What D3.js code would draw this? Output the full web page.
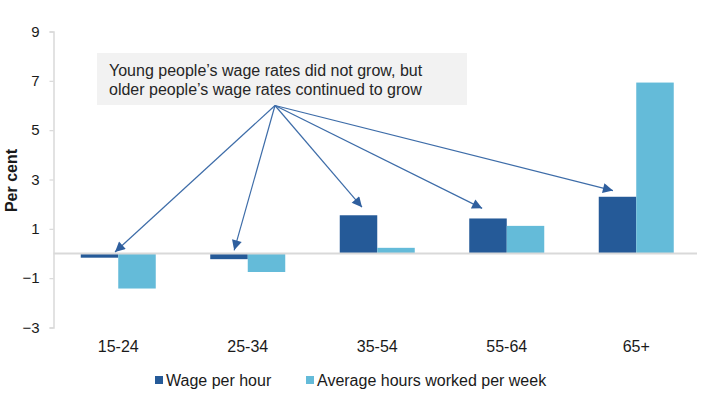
<!DOCTYPE html>
<html>
<head>
<meta charset="utf-8">
<script src="https://cdn.jsdelivr.net/npm/d3@7/dist/d3.min.js"></script>
<style>
  html, body { margin: 0; padding: 0; background: #fff; }
  svg { display: block; font-family: "Liberation Sans", Arial, sans-serif; }
</style>
</head>
<body>
<svg id="chart" width="720" height="402"></svg>
<script>
// ---- data ----
const categories = ["15-24", "25-34", "35-54", "55-64", "65+"];
const seriesNames = ["Wage per hour", "Average hours worked per week"];
const wagePerHour = [-0.17, -0.23, 1.55, 1.42, 2.3];
const hoursPerWeek = [-1.42, -0.75, 0.23, 1.12, 6.93];
const yTicks = [-3, -1, 1, 3, 5, 7, 9];
const annotationLines = ["Young people\u2019s wage rates did not grow, but", "older people\u2019s wage rates continued to grow"];
// arrow targets: category, offset within band (fraction), value level
const arrowTargets = [
  { cat: "15-24", frac: 0.475, val: 0.06 },
  { cat: "25-34", frac: 0.395, val: 0.13 },
  { cat: "35-54", frac: 0.382, val: 1.88 },
  { cat: "55-64", frac: 0.31,  val: 1.83 },
  { cat: "65+",   frac: 0.32,  val: 2.55 }
];

const colors = ["#255a98", "#64bbd9"];

const svg = d3.select("#chart");
const margin = { left: 53.5, right: 19, top: 31.5, bottom: 74.5 };
const W = 720, H = 402;

const x = d3.scaleBand().domain(categories).range([margin.left, W - margin.right]).paddingInner(0).paddingOuter(0);
const bw = 37.5;
const y = d3.scaleLinear().domain([-3, 9]).range([H - margin.bottom, margin.top]);

// y axis
const yAxis = d3.axisLeft(y).tickValues(yTicks).tickSize(4).tickPadding(10).tickFormat(d3.format("d"));
const gy = svg.append("g").attr("transform", `translate(${margin.left},0)`).call(yAxis);
gy.select(".domain").attr("stroke", "#d9d9d9").attr("stroke-width", 1.5);
gy.selectAll(".tick line").attr("stroke", "#d9d9d9").attr("stroke-width", 1.2);
gy.selectAll(".tick text").attr("fill", "#1a1a1a").style("font-size", "15px").style("font-family", "Liberation Sans, Arial, sans-serif");

// y title
svg.append("text")
  .attr("transform", `translate(17,${(y(9) + y(-3)) / 2 + 1}) rotate(-90)`)
  .attr("text-anchor", "middle")
  .style("font-size", "16px").style("font-weight", "bold").attr("fill", "#1a1a1a")
  .text("Per cent");

// bars
const data = categories.map((c, i) => ({ cat: c, vals: [wagePerHour[i], hoursPerWeek[i]] }));
const groups = svg.append("g").selectAll("g").data(data).join("g");
groups.selectAll("rect").data(d => d.vals.map((v, j) => ({ cat: d.cat, v, j }))).join("rect")
  .attr("x", d => x(d.cat) + x.bandwidth() / 2 - bw + d.j * bw)
  .attr("width", bw)
  .attr("y", d => y(Math.max(0, d.v)))
  .attr("height", d => Math.abs(y(d.v) - y(0)))
  .attr("fill", d => colors[d.j]);

// zero line
svg.append("line")
  .attr("x1", margin.left).attr("x2", W - margin.right - 4)
  .attr("y1", y(0)).attr("y2", y(0))
  .attr("stroke", "#d9d9d9").attr("stroke-width", 2);

// category labels
svg.append("g").selectAll("text").data(categories).join("text")
  .attr("x", d => x(d) + x.bandwidth() / 2)
  .attr("y", 352)
  .attr("text-anchor", "middle")
  .style("font-size", "16px").attr("fill", "#1a1a1a")
  .text(d => d);

// annotation box
svg.append("rect").attr("x", 97).attr("y", 53).attr("width", 370).attr("height", 52).attr("fill", "#f2f2f2");
svg.append("g").selectAll("text").data(annotationLines).join("text")
  .attr("x", 109).attr("y", (d, i) => 76 + i * 18.5)
  .style("font-size", "16px").attr("fill", "#262626")
  .text(d => d);

// arrows
const defs = svg.append("defs");
defs.append("marker").attr("id", "arrowhead")
  .attr("viewBox", "0 0 10 10").attr("refX", 10).attr("refY", 5)
  .attr("markerWidth", 11).attr("markerHeight", 10)
  .attr("markerUnits", "userSpaceOnUse")
  .attr("orient", "auto")
  .append("path").attr("d", "M0,0 L10,5 L0,10 Z").attr("fill", "#2f5f9e");

const origin = [275, 105.5];
svg.append("g").selectAll("line").data(arrowTargets).join("line")
  .attr("x1", origin[0]).attr("y1", origin[1])
  .attr("x2", d => x(d.cat) + d.frac * x.bandwidth())
  .attr("y2", d => y(d.val))
  .attr("stroke", "#3d6ca8").attr("stroke-width", 1.2)
  .attr("marker-end", "url(#arrowhead)");

// legend
const legend = svg.append("g");
const legendX = [155, 306];
seriesNames.forEach((n, i) => {
  legend.append("rect").attr("x", legendX[i]).attr("y", 376).attr("width", 8).attr("height", 8).attr("fill", colors[i]);
  legend.append("text").attr("x", legendX[i] + 11).attr("y", 386)
    .style("font-size", "16px").attr("fill", "#1a1a1a").text(n);
});
</script>
</body>
</html>
